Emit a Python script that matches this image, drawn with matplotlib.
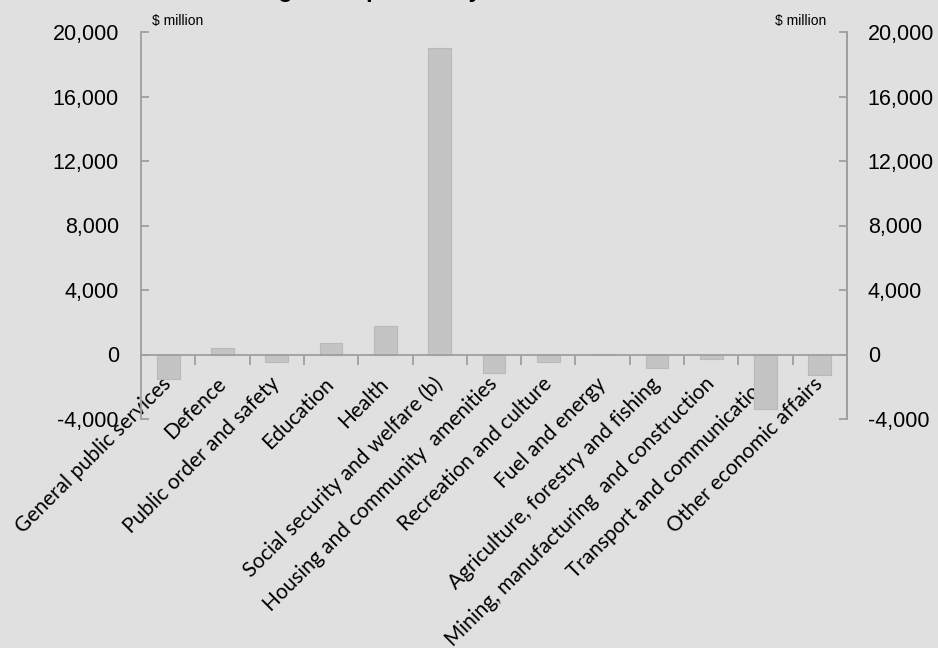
import matplotlib
matplotlib.use("Agg")
import matplotlib.pyplot as plt
import numpy as np
from matplotlib.ticker import FuncFormatter, FixedLocator

categories = [
    "General public services", "Defence", "Public order and safety", "Education",
    "Health", "Social security and welfare (b)", "Housing and community  amenities",
    "Recreation and culture", "Fuel and energy", "Agriculture, forestry and fishing",
    "Mining, manufacturing  and construction", "Transport and communication",
    "Other economic affairs",
]
values = [-1550, 400, -450, 700, 1750, 19000, -1150, -450, 50, -850, -250, -3400, -1250]
y_ticks = [-4000, 0, 4000, 8000, 12000, 16000, 20000]
unit_label = "$ million"
title = "Change in expenses by function"

BG = "#e0e0e0"
BAR = "#c4c4c4"
BAR_EDGE = "#b9b9b9"
AXC = "#9f9f9f"

fig = plt.figure(figsize=(9.38, 6.48), dpi=100, facecolor=BG)
ax = fig.add_axes([141/938, 1-419/648, (847-141)/938, (419-32)/648])
ax.set_facecolor(BG)

x = np.arange(len(categories))
ax.bar(x, values, width=0.42, color=BAR, edgecolor=BAR_EDGE, linewidth=0.8, zorder=2)

ax.set_xlim(-0.5, len(categories) - 0.5)
ax.set_ylim(-4000, 20000)

ax.spines["top"].set_visible(False)
ax.spines["bottom"].set_position(("data", 0))
for s in ["bottom", "left", "right"]:
    ax.spines[s].set_color(AXC)
    ax.spines[s].set_linewidth(1.3)
ax.spines["bottom"].set_zorder(3)

fmt = FuncFormatter(lambda v, p: f"{int(v):,}")
ax.set_yticks(y_ticks)
ax.yaxis.set_major_formatter(fmt)
ax.tick_params(axis="y", direction="in", length=6, width=1.3, color=AXC, pad=16,
               labelsize=15.5, labelcolor="black")
for lab in ax.get_yticklabels():
    lab.set_fontfamily("Liberation Sans")

# x ticks: boundaries (major, no labels), centers (minor, labels)
ax.xaxis.set_major_locator(FixedLocator(list(np.arange(0.5, len(categories) - 0.5, 1.0))))
ax.xaxis.set_major_formatter(FuncFormatter(lambda v, p: ""))
ax.xaxis.set_minor_locator(FixedLocator(list(x)))
ax.set_xticklabels(categories, minor=True)
ax.tick_params(axis="x", which="major", direction="out", length=7, width=1.3, color=AXC)
ax.tick_params(axis="x", which="minor", length=0, pad=19)
for lab in ax.get_xticklabels(minor=True):
    lab.set_rotation(45)
    lab.set_ha("right")
    lab.set_va("center")
    lab.set_rotation_mode("anchor")
    lab.set_fontfamily("Lato")
    lab.set_fontsize(15)

ax2 = ax.twinx()
ax2.set_ylim(ax.get_ylim())
ax2.set_yticks(y_ticks)
ax2.yaxis.set_major_formatter(fmt)
ax2.tick_params(axis="y", direction="in", length=6, width=1.3, color=AXC, pad=15,
                labelsize=15.5)
for lab in ax2.get_yticklabels():
    lab.set_fontfamily("Liberation Sans")
for s in ["top", "bottom", "left"]:
    ax2.spines[s].set_visible(False)
ax2.spines["right"].set_color(AXC)
ax2.spines["right"].set_linewidth(1.3)

fig.text(152/938, 1-25/648, unit_label, ha="left", va="baseline", fontsize=10,
         family="Liberation Sans")
fig.text(826/938, 1-25/648, unit_label, ha="right", va="baseline", fontsize=10,
         family="Liberation Sans")
fig.text(400/938, 1 + 3/648, title, ha="center", va="baseline", fontsize=17,
         fontweight="bold", family="Liberation Sans")

fig.savefig("out.png", dpi=100, facecolor=BG)
